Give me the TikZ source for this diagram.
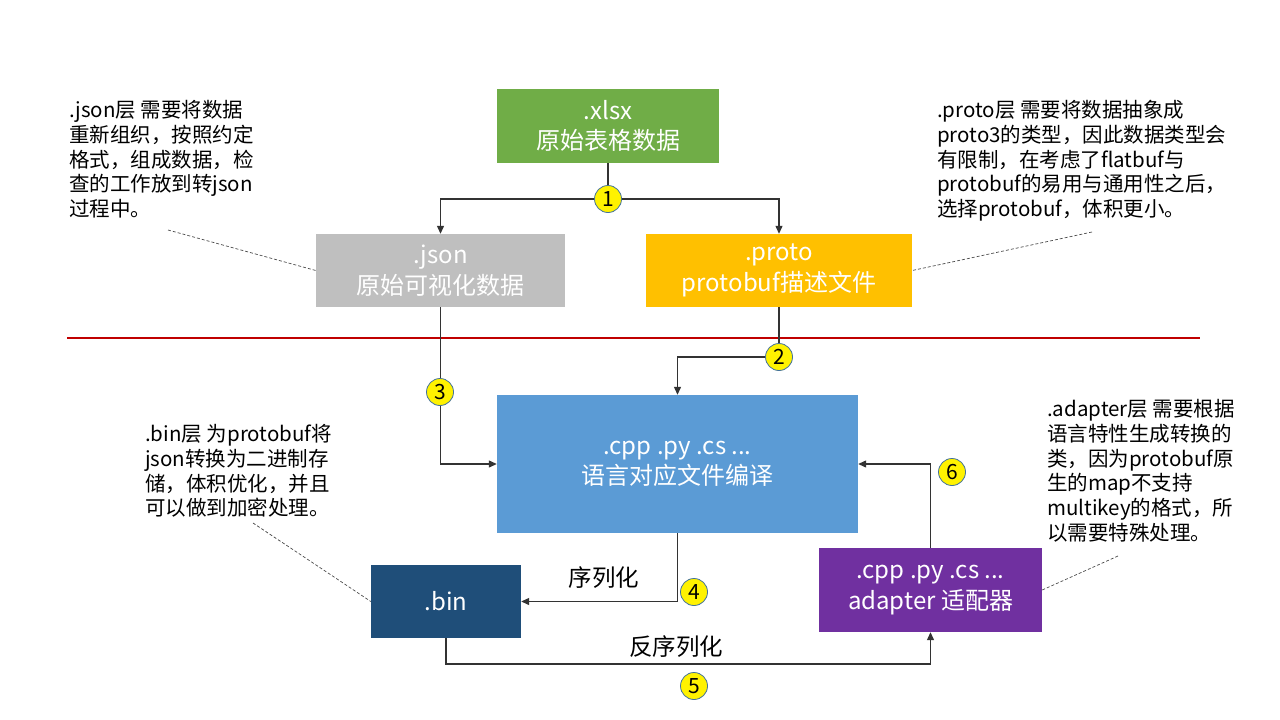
\documentclass[tikz,border=0pt]{standalone}
\usepackage{fontspec}
\setmainfont{Noto Sans CJK SC}
\usetikzlibrary{arrows.meta}
\definecolor{cgreen}{HTML}{70AD47}
\definecolor{cgray}{HTML}{BFBFBF}
\definecolor{corange}{HTML}{FFC000}
\definecolor{cblue}{HTML}{5B9BD5}
\definecolor{cnavy}{HTML}{1F4E79}
\definecolor{cpurple}{HTML}{7030A0}
\definecolor{cred}{HTML}{C00000}
\definecolor{cborder}{HTML}{41719C}
\begin{document}
\begin{tikzpicture}[x=1pt,y=-1pt,
  box/.style={inner sep=0pt,align=center,text=white,font=\fontsize{24}{30.5}\selectfont},
  note/.style={inner sep=0pt,align=left,anchor=north west,font=\fontsize{20.5}{24.8}\selectfont},
  lbl/.style={inner sep=0pt,font=\fontsize{23.5}{28}\selectfont},
  num/.style={circle,fill=yellow,draw=cborder,line width=0.8pt,minimum size=27pt,inner sep=0pt,font=\fontsize{21}{24}\selectfont},
  arr/.style={line width=1.2pt,draw=black!80,-{Triangle[length=8pt,width=7pt]}},
  con/.style={line width=1.2pt,draw=black!80},
  callout/.style={densely dashed,line width=0.7pt,draw=black!70}]
\useasboundingbox (0,0) rectangle (1280,720);
\fill[white] (0,0) rectangle (1280,720);
% boxes
\node[box,fill=cgreen,minimum width=222pt,minimum height=74pt] (xlsx) at (608,126) {.xlsx\\原始表格数据};
\node[box,fill=cgray,minimum width=249pt,minimum height=73pt] (json) at (440.5,270.5) {.json\\原始可视化数据};
\node[box,fill=corange,minimum width=266pt,minimum height=73pt] (proto) at (779,270.5) {.proto\\protobuf描述文件};
\node[box,fill=cblue,minimum width=361pt,minimum height=138pt] (cpp) at (677.5,464) {.cpp .py .cs ...\\语言对应文件编译};
\node[box,fill=cnavy,minimum width=150pt,minimum height=73pt] (bin) at (446,601.5) {.bin};
\node[box,fill=cpurple,minimum width=223pt,minimum height=84pt] (adapter) at (930.5,590) {.cpp .py .cs ...\\adapter 适配器};
% red separator
\coordinate (redL) at (67,338);
\coordinate (redR) at (1200,338);
\draw[cred,line width=1.5pt] (redL) -- (redR);
% number circle positions
\coordinate (p1) at (608,199);
\coordinate (p2) at (779,357);
\coordinate (p3) at (440,392);
\coordinate (p4) at (694,592);
\coordinate (p5) at (694,686);
\coordinate (p6) at (952,472);
\coordinate (lvl5) at (0,664);
% connectors
\draw[con] (xlsx.south) -- (p1);
\draw[arr] (p1) -| (json.north);
\draw[arr] (p1) -| (proto.north);
\draw[arr] (proto.south) -- (p2) -| (cpp.north);
\draw[arr] (json.south) |- (cpp.west);
\draw[arr] (cpp.south) |- (bin.east);
\draw[arr] (bin.south) -- (bin.south |- lvl5) -| (adapter.south);
\draw[arr] (adapter.north) |- (cpp.east);
% numbers
\node[num] (n1) at (p1) {1};
\node[num] (n2) at (p2) {2};
\node[num] (n3) at (p3) {3};
\node[num] (n4) at (p4) {4};
\node[num] (n5) at (p5) {5};
\node[num] (n6) at (p6) {6};
% labels
\node[lbl] (ser) at (604,578) {序列化};
\node[lbl] (deser) at (676,647) {反序列化};
% notes
\node[note] (tjson) at (69,100) {.json层 需要将数据\\重新组织，按照约定\\格式，组成数据，检\\查的工作放到转json\\过程中。};
\node[note] (tproto) at (937,100) {.proto层 需要将数据抽象成\\proto3的类型，因此数据类型会\\有限制，在考虑了flatbuf与\\protobuf的易用与通用性之后，\\选择protobuf，体积更小。};
\node[note] (tbin) at (145,424) {.bin层 为protobuf将\\json转换为二进制存\\储，体积优化，并且\\可以做到加密处理。};
\node[note] (tadapter) at (1047,399) {.adapter层 需要根据\\语言特性生成转换的\\类，因为protobuf原\\生的map不支持\\multikey的格式，所\\以需要特殊处理。};
% callout lines
\coordinate (cj) at (168,230);
\coordinate (cp) at (1092,232);
\coordinate (cb) at (253,523);
\coordinate (ca) at (1118,556);
\draw[callout] (cj) -- (json.west);
\draw[callout] (cp) -- (proto.east);
\draw[callout] (cb) -- (bin.west);
\draw[callout] (ca) -- (adapter.east);
\end{tikzpicture}
\end{document}
